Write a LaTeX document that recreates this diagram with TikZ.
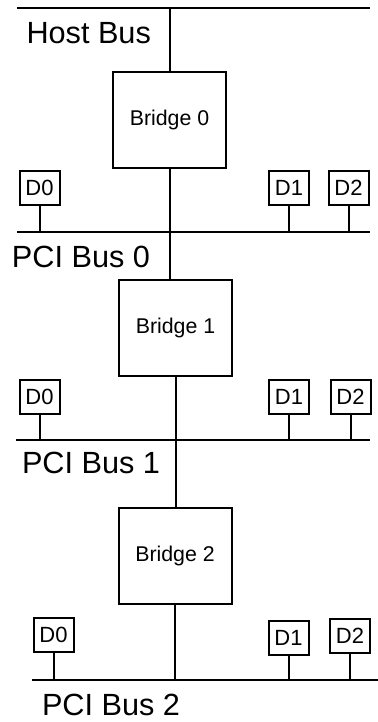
\documentclass[tikz,border=0pt]{standalone}
\usepackage{fontspec}
\setmainfont{Liberation Sans}
\begin{document}
\begin{tikzpicture}[x=0.75pt,y=-0.75pt,line width=1.5pt,
  bridge/.style={draw,fill=white,minimum width=84.75pt,minimum height=72pt,inner sep=0pt,font=\fontsize{16pt}{19pt}\selectfont},
  dev/.style={draw,fill=white,minimum width=30pt,minimum height=25.5pt,inner sep=0pt,font=\fontsize{16.5pt}{19pt}\selectfont},
  buslabel/.style={anchor=base west,inner sep=0pt,font=\fontsize{23pt}{27pt}\selectfont},
  bus/.style={line width=1.5pt}]
\useasboundingbox (0,0) rectangle (378,722);
% buses
\coordinate (hbL) at (17,8); \coordinate (hbR) at (370,8);
\coordinate (p0L) at (17,232); \coordinate (p0R) at (370,232);
\coordinate (p1L) at (16,440); \coordinate (p1R) at (370,440);
\coordinate (p2L) at (32,680); \coordinate (p2R) at (378,680);
\draw[bus] (hbL) -- (hbR);
\draw[bus] (p0L) -- (p0R);
\draw[bus] (p1L) -- (p1R);
\draw[bus] (p2L) -- (p2R);
% bridges
\node[bridge] (b0) at (169.5,120) {Bridge 0};
\node[bridge] (b1) at (175.5,328) {Bridge 1};
\node[bridge] (b2) at (175,556) {Bridge 2};
\draw (b0.north) -- (b0.north |- hbL);
\draw (b0.south) -- (b0.south |- b1.north);
\draw (b1.south) -- (b1.south |- b2.north);
\draw (b2.south) -- (b2.south |- p2L);
% devices bus 0
\node[dev] (d00) at (39.5,187.5) {D0};
\node[dev] (d01) at (289,187.5) {D1};
\node[dev] (d02) at (348.5,187.5) {D2};
% devices bus 1
\node[dev] (d10) at (39.5,396.5) {D0};
\node[dev] (d11) at (289,396.5) {D1};
\node[dev] (d12) at (350.5,396.5) {D2};
% devices bus 2
\node[dev] (d20) at (53.5,634.5) {D0};
\node[dev] (d21) at (288.5,637.5) {D1};
\node[dev] (d22) at (350,635.5) {D2};
\foreach \d/\b in {d00/p0L,d01/p0L,d02/p0L,d10/p1L,d11/p1L,d12/p1L,d20/p2L,d21/p2L,d22/p2L}
  \draw (\d.south) -- (\d.south |- \b);
% labels
\node[buslabel] (lhb) at (25.5,43) {Host Bus};
\node[buslabel] (lp0) at (11,267) {PCI Bus 0};
\node[buslabel] (lp1) at (21,473) {PCI Bus 1};
\node[buslabel] (lp2) at (41,715) {PCI Bus 2};
\end{tikzpicture}
\end{document}
